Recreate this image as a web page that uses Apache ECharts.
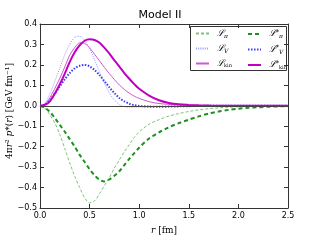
<!DOCTYPE html>
<html><head><meta charset="utf-8">
<script src="https://cdn.jsdelivr.net/npm/echarts@6/dist/echarts.min.js"></script>
<style>html,body{margin:0;padding:0;background:#fff}#c{width:320px;height:240px}</style>
</head><body><div id="c"></div>
<script>
const r = [0,0.05,0.1,0.15,0.2,0.25,0.3,0.35,0.4,0.45,0.5,0.55,0.6,0.65,0.7,0.75,0.8,0.85,0.9,0.95,1.0,1.1,1.2,1.3,1.4,1.5,1.6,1.7,1.8,1.9,2.0,2.1,2.2,2.3,2.4,2.5];
const Lpi = [0,-0.012,-0.045,-0.085,-0.14,-0.21,-0.28,-0.345,-0.40,-0.45,-0.475,-0.465,-0.43,-0.39,-0.35,-0.305,-0.265,-0.225,-0.19,-0.155,-0.128,-0.09,-0.068,-0.05,-0.038,-0.028,-0.02,-0.014,-0.01,-0.007,-0.005,-0.004,-0.003,-0.002,-0.002,-0.001];
const LV = [0,0.012,0.06,0.12,0.185,0.25,0.3,0.335,0.34,0.32,0.28,0.225,0.165,0.11,0.062,0.028,0.006,-0.004,-0.007,-0.007,-0.006,-0.005,-0.003,-0.002,-0.001,0,0,0,0,0,0,0,0,0,0,0];
const Lkin = [0,0.008,0.04,0.085,0.135,0.19,0.248,0.285,0.308,0.305,0.283,0.252,0.22,0.187,0.157,0.128,0.102,0.08,0.062,0.047,0.036,0.02,0.011,0.007,0.004,0.003,0.002,0.001,0.001,0,0,0,0,0,0,0];
const LpiS = [0,-0.01,-0.03,-0.06,-0.093,-0.127,-0.163,-0.2,-0.24,-0.275,-0.31,-0.34,-0.362,-0.37,-0.36,-0.342,-0.32,-0.29,-0.26,-0.232,-0.205,-0.16,-0.13,-0.105,-0.085,-0.068,-0.052,-0.038,-0.028,-0.02,-0.014,-0.01,-0.007,-0.005,-0.003,-0.002];
const LVS = [0,0.006,0.028,0.06,0.095,0.13,0.16,0.183,0.196,0.2,0.193,0.175,0.15,0.12,0.09,0.062,0.038,0.022,0.01,0.003,-0.001,-0.004,-0.005,-0.004,-0.003,-0.002,-0.001,0,0,0,0,0,0,0,0,0];
const LkinS = [0,0.004,0.022,0.06,0.105,0.157,0.215,0.262,0.296,0.318,0.325,0.322,0.308,0.283,0.255,0.222,0.192,0.16,0.132,0.106,0.083,0.05,0.027,0.014,0.007,0.004,0.002,0.001,0,0,0,0,0,0,0,0];
const xTicks = ['0.0','0.5','1.0','1.5','2.0','2.5'];
const yTicks = ['−0.5','−0.4','−0.3','−0.2','−0.1','0.0','0.1','0.2','0.3','0.4'];

const pairs = a => r.map((x,i)=>[x,a[i]]);
const chart = echarts.init(document.getElementById('c'), null, {renderer:'canvas'});
const tickFont = {fontFamily:'DejaVu Sans', fontSize:8, color:'#000'};
const axLine = {lineStyle:{color:'#333', width:1}};
function mkX(pos, show){
  return {type:'value', position:pos, min:0, max:2.5, interval:0.5,
    axisLine:{show:true, onZero:false, ...axLine},
    axisTick:{show:true, inside:true, length:4, lineStyle:{color:'#333'}},
    axisLabel:{show:show, margin:4, ...tickFont, formatter:v=>xTicks[Math.round(v/0.5)]},
    splitLine:{show:false},
    name: show ? '{i|r} [fm]' : '', nameLocation:'middle', nameGap:18,
    nameTextStyle:{fontFamily:'DejaVu Serif', fontSize:9, color:'#000', rich:{i:{fontFamily:'DejaVu Serif', fontStyle:'italic', fontSize:9}}}
  };
}
function mkY(pos, show){
  return {type:'value', position:pos, min:-0.5, max:0.4, interval:0.1,
    axisLine:{show:true, onZero:false, ...axLine},
    axisTick:{show:true, inside:true, length:4, lineStyle:{color:'#333'}},
    axisLabel:{show:show, margin:3, ...tickFont, formatter:v=>yTicks[Math.round((v+0.5)/0.1)]},
    splitLine:{show:false}
  };
}
const lab = {
  Lpi:'{a|ℒ}{b|π}', LV:'{a|ℒ}{b|V}', Lkin:'{a|ℒ}{c|kin}',
  LpiS:'{a|ℒ}{s|*}{b|π}', LVS:'{a|ℒ}{s|*}{b|V}', LkinS:'{a|ℒ}{s|*}{c|kin}'
};
const rich = {
  a:{fontFamily:'DejaVu Serif', fontStyle:'italic', fontSize:9, color:'#000'},
  b:{fontFamily:'DejaVu Serif', fontStyle:'italic', fontSize:6, color:'#000', padding:[5,0,0,0]},
  c:{fontFamily:'DejaVu Serif', fontSize:5, color:'#000', padding:[5,0,0,0]},
  s:{fontFamily:'DejaVu Serif', fontSize:6, color:'#000', padding:[0,0,4,0]}
};
function mkLegend(left, data){
  return {show:true, orient:'vertical', left:left, top:29, itemWidth:13, itemHeight:8, itemGap:5,
    padding:0, data:data, formatter:n=>lab[n], textStyle:{rich:rich, padding:[0,0,0,3]},
    itemStyle:{opacity:0}, selectedMode:false};
}
function mkSeries(name, data, color, width, type){
  return {name:name, type:'line', data:pairs(data), showSymbol:false, symbol:'none', smooth:0.3,
    lineStyle:{color:color, width:width, type:type}, itemStyle:{color:color}, z:3, silent:true};
}
const series = [
  mkSeries('Lpi', Lpi, '#7cc47c', 1, [3,2]),
  mkSeries('LV', LV, '#9a9aff', 1, [1,1.2]),
  mkSeries('Lkin', Lkin, '#d455d4', 1, 'solid'),
  mkSeries('LpiS', LpiS, '#1f8f1f', 2, [4,3]),
  mkSeries('LVS', LVS, '#3c3cff', 2, [1.5,1.5]),
  mkSeries('LkinS', LkinS, '#c000c0', 2, 'solid')
];
series[0].markLine = {silent:true, symbol:'none', label:{show:false}, lineStyle:{color:'#444', width:1, type:'solid'}, data:[{yAxis:0}]};
chart.setOption({
  animation:false,
  backgroundColor:'#fff',
  title:{text:'Model II', left:'center', top:10, padding:0, textStyle:{fontFamily:'DejaVu Sans', fontSize:11, fontWeight:'normal', color:'#000'}},
  grid:{left:40, right:32, top:24, bottom:25, containLabel:false},
  xAxis:[mkX('bottom', true), mkX('top', false)],
  yAxis:[mkY('left', true), mkY('right', false)],
  legend:[mkLegend(195, ['Lpi','LV','Lkin']), mkLegend(247, ['LpiS','LVS','LkinS'])],
  graphic:[
    {type:'rect', left:190, top:26, shape:{width:96, height:44}, style:{fill:'rgba(0,0,0,0)', stroke:'#333', lineWidth:1}, z:10, silent:true},
    {type:'text', x:10, y:111, rotation:Math.PI/2, style:{text:'4π{i|r}² {i|p}*({i|r}) [GeV fm⁻¹]', fontFamily:'DejaVu Serif', fontSize:9, fill:'#000', align:'center', verticalAlign:'middle', rich:{i:{fontFamily:'DejaVu Serif', fontStyle:'italic', fontSize:9}}}, silent:true}
  ],
  series:series
});
</script></body></html>
